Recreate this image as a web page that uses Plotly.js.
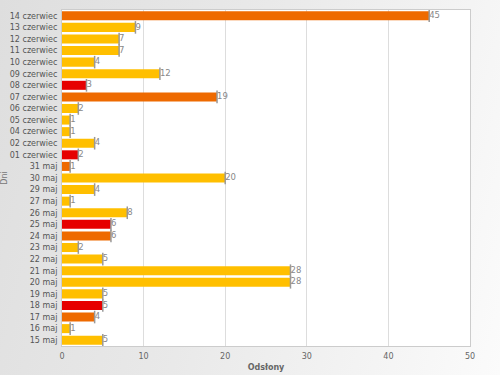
<!DOCTYPE html>
<html><head><meta charset="utf-8">
<script src="https://cdn.plot.ly/plotly-3.0.1.min.js"></script>
<style>
html,body{margin:0;padding:0;}
body{width:500px;height:375px;background:linear-gradient(105deg,#dedede 0%,#e9e9e9 45%,#fbfbfb 100%);}
#chart{width:500px;height:375px;}
</style></head>
<body><div id="chart"></div>
<script>
const days = ["14 czerwiec","13 czerwiec","12 czerwiec","11 czerwiec","10 czerwiec","09 czerwiec","08 czerwiec","07 czerwiec","06 czerwiec","05 czerwiec","04 czerwiec","02 czerwiec","01 czerwiec","31 maj","30 maj","29 maj","27 maj","26 maj","25 maj","24 maj","23 maj","22 maj","21 maj","20 maj","19 maj","18 maj","17 maj","16 maj","15 maj"];
const views = [45,9,7,7,4,12,3,19,2,1,1,4,2,1,20,4,1,8,6,6,2,5,28,28,5,5,4,1,5];
const kinds = ["o","y","y","y","y","y","r","o","y","y","y","y","r","o","y","y","y","y","r","o","y","y","y","y","y","r","o","y","y"];
const palette = {o:"#ee6a00", y:"#ffbf00", r:"#e60000"};
const colors = kinds.map(k => palette[k]);
const font = "DejaVu Sans, Verdana, sans-serif";

const bars = {
  type:"bar", orientation:"h", x:views, y:days,
  marker:{color:colors, line:{width:0}},
  width:0.78,
  hoverinfo:"x+y"
};
const edges = {
  type:"scatter", mode:"markers", x:views, y:days,
  marker:{symbol:"line-ns", size:9, line:{color:"#999", width:1.5}},
  hoverinfo:"skip"
};
const labels = {
  type:"scatter", mode:"text", x:views, y:days,
  text:views.map(String), textposition:"middle right", cliponaxis:false,
  textfont:{family:font,size:8.5,color:"#888"},
  hoverinfo:"skip"
};
const layout = {
  width:500, height:375,
  margin:{l:62, r:30, t:10, b:29},
  paper_bgcolor:"rgba(0,0,0,0)", plot_bgcolor:"#ffffff",
  showlegend:false, bargap:0.22,
  xaxis:{range:[0,50], dtick:10, showgrid:true, gridcolor:"#dddddd", gridwidth:1,
    zeroline:false, showline:true, linecolor:"#cccccc", mirror:true,
    ticks:"outside", ticklen:2, tickcolor:"rgba(0,0,0,0)", tickfont:{family:font,size:8,color:"#666"},
    title:{text:"<b>Odsłony</b>", font:{family:font,size:8,color:"#666"}, standoff:4}},
  yaxis:{type:"category", range:[days.length-0.5,-0.5], showgrid:false, zeroline:false,
    showline:true, linecolor:"#cccccc", mirror:true, ticks:"outside", ticklen:2, tickcolor:"rgba(0,0,0,0)",
    tickfont:{family:font,size:8,color:"#555"},
    title:{text:"Dni", font:{family:font,size:8,color:"#777"}, standoff:2}}
};
Plotly.newPlot("chart",[bars,edges,labels],layout,{displayModeBar:false,staticPlot:true});
</script></body></html>
